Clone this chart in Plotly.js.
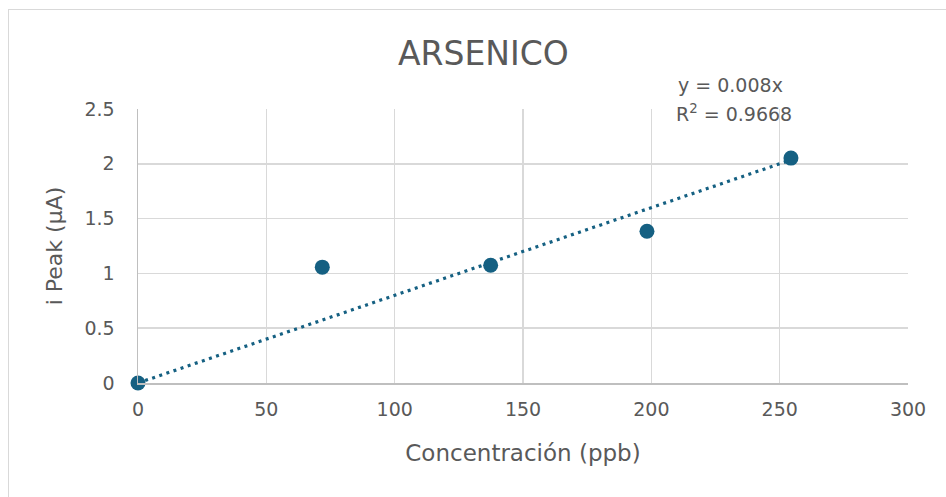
<!DOCTYPE html>
<html>
<head>
<meta charset="utf-8">
<script src="https://cdn.plot.ly/plotly-3.0.1.min.js"></script>
<style>
  html, body { margin: 0; padding: 0; background: #ffffff; overflow: hidden; }
  #wrap { position: relative; width: 946px; height: 497px; }
  #frame { position: absolute; left: 8px; top: 9px; width: 1200px; height: 800px;
           border: 1.5px solid #d9d9d9; pointer-events: none; box-sizing: border-box; }
  #chart { position: absolute; left: 0; top: 0; width: 946px; height: 497px; }
</style>
</head>
<body>
<div id="wrap">
  <div id="frame"></div>
  <div id="chart"></div>
</div>
<script>
// Data
const concentration = [0, 71.8, 137.4, 198.3, 254.4];   // ppb
const iPeak = [0, 1.057, 1.075, 1.385, 2.052];          // µA
const slope = 0.008;
const r2 = 0.9668;
const xTicks = [0, 50, 100, 150, 200, 250, 300];
const yTicks = [0, 0.5, 1, 1.5, 2, 2.5];

const mainColor = '#156082';
const textColor = '#595959';
const fontFam = '"DejaVu Sans", "Liberation Sans", Arial, sans-serif';

const xMin = Math.min(...concentration);
const xMax = Math.max(...concentration);
const trendX = [xMin, xMax];
const trendY = trendX.map(v => slope * v);

const traces = [
  {
    x: trendX, y: trendY, type: 'scatter', mode: 'lines',
    line: { color: mainColor, width: 3.2, dash: '3px,4.5px' },
    hoverinfo: 'skip', showlegend: false, cliponaxis: false
  },
  {
    x: concentration, y: iPeak, type: 'scatter', mode: 'markers',
    marker: { color: mainColor, size: 15, line: { width: 0 } },
    showlegend: false, cliponaxis: false
  }
];

const layout = {
  width: 946, height: 497,
  margin: { l: 138, r: 38, t: 109, b: 114 },
  paper_bgcolor: 'rgba(0,0,0,0)',
  plot_bgcolor: 'rgba(0,0,0,0)',
  font: { family: fontFam, color: textColor },
  title: {
    text: 'ARSENICO',
    font: { size: 33, color: textColor, family: fontFam },
    x: 0.511, xanchor: 'center', y: 0.893, yanchor: 'middle'
  },
  xaxis: {
    range: [0, 300], tickvals: xTicks, ticktext: xTicks.map(String),
    showgrid: true, gridcolor: '#d9d9d9', gridwidth: 1.5,
    zeroline: false, showline: true, linecolor: '#bfbfbf', linewidth: 1.5,
    ticks: '', tickfont: { size: 19, color: textColor },
    ticklabelstandoff: 9,
    title: { text: 'Concentración (ppb)', font: { size: 23, color: textColor }, standoff: 25 },
    fixedrange: true
  },
  yaxis: {
    range: [0, 2.5], tickvals: yTicks, ticktext: yTicks.map(String),
    showgrid: true, gridcolor: '#d9d9d9', gridwidth: 1.5,
    zeroline: false, showline: true, linecolor: '#bfbfbf', linewidth: 1.5,
    ticks: '', tickfont: { size: 19, color: textColor },
    ticklabelstandoff: 18,
    title: { text: 'i Peak (µA)', font: { size: 22, color: textColor }, standoff: 16 },
    fixedrange: true
  },
  annotations: [
    {
      xref: 'paper', yref: 'paper', x: 0.77, y: 1.0876, xanchor: 'center', yanchor: 'middle',
      text: 'y = ' + slope + 'x',
      showarrow: false, align: 'center',
      font: { size: 19, color: textColor, family: fontFam }
    },
    {
      xref: 'paper', yref: 'paper', x: 0.774, y: 0.985, xanchor: 'center', yanchor: 'middle',
      text: 'R<sup>2</sup> = ' + r2,
      showarrow: false, align: 'center',
      font: { size: 19, color: textColor, family: fontFam }
    }
  ],
  showlegend: false
};

Plotly.newPlot('chart', traces, layout, { displayModeBar: false, staticPlot: true });
</script>
</body>
</html>
